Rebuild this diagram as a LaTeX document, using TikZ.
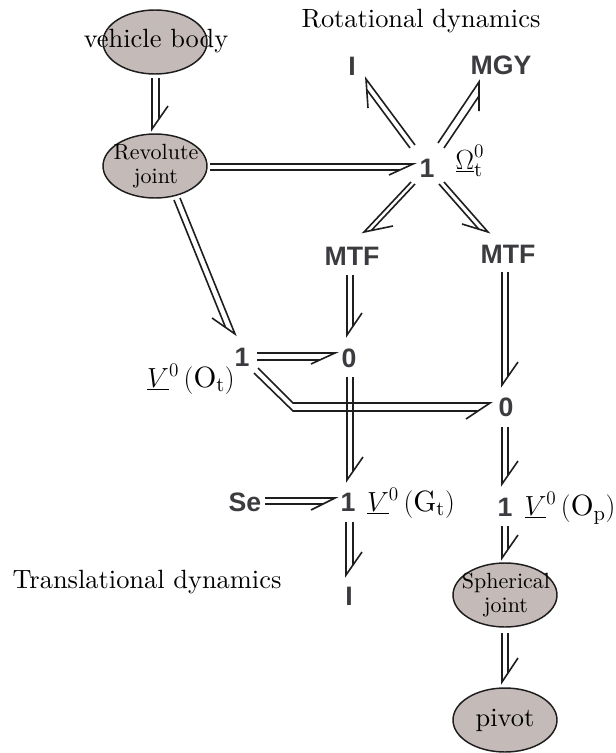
\documentclass[tikz,border=0pt]{standalone}
\usepackage{fontspec}
\newfontfamily\bsf{Liberation Sans}[BoldFont={Liberation Sans Bold}]
\newfontfamily\tenrm{lmroman10-regular}[Extension=.otf]
\setmainfont{lmroman10-regular}[Extension=.otf]
\usetikzlibrary{calc,shapes.geometric}
\definecolor{bodyfill}{HTML}{C4BAB7}
\definecolor{elemgray}{HTML}{3C3C40}
\definecolor{bondcol}{HTML}{1E1E1E}
\tikzset{
  body/.style={ellipse,draw=bondcol,line width=1.1pt,fill=bodyfill,minimum width=78pt,minimum height=48pt,inner sep=0pt,outer sep=0pt},
  elem/.style={font=\bsf\bfseries\fontsize{20}{24}\selectfont,text=elemgray,inner sep=0pt},
  lab/.style={font=\tenrm\fontsize{19.8}{24}\selectfont,inner sep=0pt},
  mlab/.style={font=\tenrm\fontsize{22}{26}\selectfont,inner sep=0pt},
  small/.style={font=\tenrm\fontsize{16.5}{18}\selectfont,inner sep=0pt,align=center},
  bondline/.style={draw=bondcol,line width=1.2pt,miter limit=20},
}
% from node, start offset, to node, tip offset, second-line start offset from start, barb offset from tip
\newcommand{\bond}[6]{%
  \coordinate (bp) at ($(#1)+(#2)$);
  \coordinate (bt) at ($(#3)+(#4)$);
  \coordinate (bs) at ($(bp)+(#5)$);
  \coordinate (bb) at ($(bt)+(#6)$);
  \coordinate (bq) at ($(bs)+(bt)-(bp)$);
  \draw[bondline] (bp) -- (bt) -- (bb);
  \draw[bondline] (bs) -- (intersection of bs--bq and bt--bb);
}
\begin{document}
\begin{tikzpicture}[x=0.75pt,y=-0.75pt]
\useasboundingbox (0,0) rectangle (616,753);
% bodies
\node[body] (vb) at (155,42) {};
\node[body] (rev) at (155,166) {};
\node[body] (sph) at (505,595) {};
\node[body] (piv) at (505,720) {};
\node[lab] (vbt) at (156,41) {vehicle body};
\node[small] (revt) at (156,166) {Revolute\\joint};
\node[small] (spht) at (506,595) {Spherical\\joint};
\node[lab] (pivt) at (505,720) {pivot};
% titles
\node[lab] (rot) at (421,21) {Rotational dynamics};
\node[lab] (tra) at (147,582) {Translational dynamics};
% elements
\node[elem] (rI) at (352,66) {I};
\node[elem] (mgy) at (501,65) {MGY};
\node[elem] (r1) at (427,168) {1};
\node[elem] (mtfl) at (352,256) {MTF};
\node[elem] (mtfr) at (508,254) {MTF};
\node[elem] (o1) at (242,357) {1};
\node[elem] (z0l) at (349,358) {0};
\node[elem] (z0r) at (506,407) {0};
\node[elem] (se) at (245,502) {Se};
\node[elem] (g1) at (348,502) {1};
\node[elem] (p1) at (505,507) {1};
\node[elem] (tI) at (349,596) {I};
% variable labels
\node[mlab] (omega) at (470,161) {$\underline{\Omega}_{\mathrm{t}}^{0}$};
\node[mlab] (vot) at (191,379) {$\underline{V}^{0}\,(\mathrm{O_t})$};
\node[mlab] (vgt) at (411,503) {$\underline{V}^{0}\,(\mathrm{G_t})$};
\node[mlab] (vop) at (570,508) {$\underline{V}^{0}\,(\mathrm{O_p})$};
% bonds
\bond{vb}{-3,36}{rev}{-3,-37}{7,0}{16,-23}
\bond{rev}{55,-2}{r1}{-14,-4}{0,6}{-24,11}
\bond{r1}{-12,-23}{rI}{14,13}{-5,3}{2,29}
\bond{r1}{11,-25}{mgy}{-22,17}{6,5}{0,29}
\bond{r1}{-16,14}{mtfl}{12,-24}{4,2}{29,-6}
\bond{r1}{17,14}{mtfr}{-20,-22}{-5,2}{-26,-8}
\bond{rev}{25,32}{o1}{-7,-23}{-6,2}{-23,-16}
\bond{mtfl}{-5,19}{z0l}{-2,-23}{6,0}{15,-22}
\bond{mtfr}{-6,18}{z0r}{-4,-22}{6,0}{16,-23}
\bond{o1}{15,-4}{z0l}{-14,-5}{0,7}{-24,11}
\bond{z0l}{-2,19}{g1}{-1,-22}{6,0}{16,-23}
\bond{z0r}{-4,20}{p1}{-3,-23}{6,0}{16,-23}
\bond{se}{20,-4}{g1}{-13,-4}{0,6}{-24,12}
\bond{g1}{-2,20}{tI}{-3,-21}{7,0}{16,-23}
\bond{p1}{-3,19}{sph}{-3,-37}{6,0}{16,-23}
\bond{sph}{-3,38}{piv}{-3,-38}{6,0}{16,-24}
% bent bond from the Ot junction to the right zero junction
\coordinate (kna) at ($(z0l)+(-56,45)$);
\coordinate (knb) at ($(z0l)+(-56,53)$);
\draw[bondline] ($(o1)+(16,11)$) -- (kna) -- ($(z0r)+(-16,-4)$) -- ($(z0r)+(-40,12)$);
\draw[bondline] ($(o1)+(12,16)$) -- (knb) -- ($(z0r)+(-28,4)$);
\end{tikzpicture}
\end{document}
